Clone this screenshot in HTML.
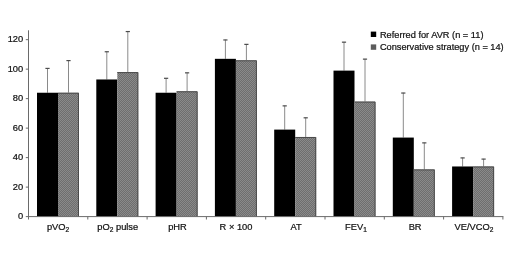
<!DOCTYPE html>
<html lang="en"><head><meta charset="utf-8"><title>Chart</title>
<style>
html,body{margin:0;padding:0;background:#fff;}
body{width:520px;height:261px;overflow:hidden;}
svg{display:block;}
text{font-family:"Liberation Sans",sans-serif;font-size:9.3px;fill:#111;stroke:#111;stroke-width:0.22px;}
.sub{font-size:6.6px;}
.ax{stroke:#6a6a6a;stroke-width:1;fill:none;}
.eb{stroke:#8a8a8a;stroke-width:1;fill:none;}
.cap{stroke:#4c4c4c;stroke-width:1.2;fill:none;}
</style></head><body>
<svg width="520" height="261" viewBox="0 0 520 261">
<defs><pattern id="ht" width="2" height="2" patternUnits="userSpaceOnUse"><rect width="2" height="2" fill="#6e6e6e"/><rect width="1" height="1" fill="#8a8a8a"/><rect x="1" y="1" width="1" height="1" fill="#8a8a8a"/></pattern></defs>
<rect width="520" height="261" fill="#fff"/>

<path class="eb" d="M47.50 92.74V68.12"/><path class="cap" d="M45.40 68.42H49.60"/>
<path class="eb" d="M68.50 92.74V60.30"/><path class="cap" d="M66.40 60.60H70.60"/>
<path class="eb" d="M106.80 79.47V51.46"/><path class="cap" d="M104.70 51.76H108.90"/>
<path class="eb" d="M127.80 72.10V31.26"/><path class="cap" d="M125.70 31.56H129.90"/>
<path class="eb" d="M166.10 92.74V78.00"/><path class="cap" d="M164.00 78.30H168.20"/>
<path class="eb" d="M187.10 91.27V72.54"/><path class="cap" d="M185.00 72.84H189.20"/>
<path class="eb" d="M225.40 58.83V39.66"/><path class="cap" d="M223.30 39.96H227.50"/>
<path class="eb" d="M246.40 60.30V44.08"/><path class="cap" d="M244.30 44.38H248.50"/>
<path class="eb" d="M284.70 129.60V105.57"/><path class="cap" d="M282.60 105.87H286.80"/>
<path class="eb" d="M305.70 136.98V117.51"/><path class="cap" d="M303.60 117.81H307.80"/>
<path class="eb" d="M344.00 70.62V41.87"/><path class="cap" d="M341.90 42.17H346.10"/>
<path class="eb" d="M365.00 101.59V58.83"/><path class="cap" d="M362.90 59.13H367.10"/>
<path class="eb" d="M403.30 137.57V92.74"/><path class="cap" d="M401.20 93.04H405.40"/>
<path class="eb" d="M424.30 169.42V142.58"/><path class="cap" d="M422.20 142.88H426.40"/>
<path class="eb" d="M462.60 166.47V157.62"/><path class="cap" d="M460.50 157.92H464.70"/>
<path class="eb" d="M483.60 166.47V158.80"/><path class="cap" d="M481.50 159.10H485.70"/>
<rect x="37.00" y="92.74" width="21.00" height="123.86" fill="#000"/>
<rect x="58.00" y="92.74" width="21.00" height="123.86" fill="url(#ht)"/>
<path d="M58.00 93.24H78.50V216.60" stroke="#4a4a4a" stroke-width="1" fill="none"/>
<rect x="96.30" y="79.47" width="21.00" height="137.13" fill="#000"/>
<rect x="117.30" y="72.10" width="21.00" height="144.50" fill="url(#ht)"/>
<path d="M117.30 72.60H137.80V216.60" stroke="#4a4a4a" stroke-width="1" fill="none"/>
<rect x="155.60" y="92.74" width="21.00" height="123.86" fill="#000"/>
<rect x="176.60" y="91.27" width="21.00" height="125.33" fill="url(#ht)"/>
<path d="M176.60 91.77H197.10V216.60" stroke="#4a4a4a" stroke-width="1" fill="none"/>
<rect x="214.90" y="58.83" width="21.00" height="157.77" fill="#000"/>
<rect x="235.90" y="60.30" width="21.00" height="156.30" fill="url(#ht)"/>
<path d="M235.90 60.80H256.40V216.60" stroke="#4a4a4a" stroke-width="1" fill="none"/>
<rect x="274.20" y="129.60" width="21.00" height="87.00" fill="#000"/>
<rect x="295.20" y="136.98" width="21.00" height="79.62" fill="url(#ht)"/>
<path d="M295.20 137.48H315.70V216.60" stroke="#4a4a4a" stroke-width="1" fill="none"/>
<rect x="333.50" y="70.62" width="21.00" height="145.98" fill="#000"/>
<rect x="354.50" y="101.59" width="21.00" height="115.01" fill="url(#ht)"/>
<path d="M354.50 102.09H375.00V216.60" stroke="#4a4a4a" stroke-width="1" fill="none"/>
<rect x="392.80" y="137.57" width="21.00" height="79.03" fill="#000"/>
<rect x="413.80" y="169.42" width="21.00" height="47.18" fill="url(#ht)"/>
<path d="M413.80 169.92H434.30V216.60" stroke="#4a4a4a" stroke-width="1" fill="none"/>
<rect x="452.10" y="166.47" width="21.00" height="50.13" fill="#000"/>
<rect x="473.10" y="166.47" width="21.00" height="50.13" fill="url(#ht)"/>
<path d="M473.10 166.97H493.60V216.60" stroke="#4a4a4a" stroke-width="1" fill="none"/>
<path class="ax" d="M28.5 30.3V219.5"/>
<path class="ax" d="M25.8 216.6H503.40"/>
<path class="ax" d="M25.8 187.11H28.5"/>
<path class="ax" d="M25.8 157.62H28.5"/>
<path class="ax" d="M25.8 128.13H28.5"/>
<path class="ax" d="M25.8 98.64H28.5"/>
<path class="ax" d="M25.8 69.15H28.5"/>
<path class="ax" d="M25.8 39.66H28.5"/>
<path class="ax" d="M87.80 216.6V219.5"/>
<path class="ax" d="M147.10 216.6V219.5"/>
<path class="ax" d="M206.40 216.6V219.5"/>
<path class="ax" d="M265.70 216.6V219.5"/>
<path class="ax" d="M325.00 216.6V219.5"/>
<path class="ax" d="M384.30 216.6V219.5"/>
<path class="ax" d="M443.60 216.6V219.5"/>
<path class="ax" d="M502.90 216.6V219.5"/>
<text x="23.2" y="219.20" text-anchor="end">0</text>
<text x="23.2" y="189.71" text-anchor="end">20</text>
<text x="23.2" y="160.22" text-anchor="end">40</text>
<text x="23.2" y="130.73" text-anchor="end">60</text>
<text x="23.2" y="101.24" text-anchor="end">80</text>
<text x="23.2" y="71.75" text-anchor="end">100</text>
<text x="23.2" y="42.26" text-anchor="end">120</text>
<text x="58.1" y="229.7" text-anchor="middle">pVO<tspan class="sub" dy="1.8">2</tspan></text>
<text x="117.75" y="229.7" text-anchor="middle">pO<tspan class="sub" dy="1.8">2</tspan><tspan dy="-1.8"> pulse</tspan></text>
<text x="177.5" y="229.7" text-anchor="middle">pHR</text>
<text x="236" y="229.7" text-anchor="middle">R × 100</text>
<text x="296.1" y="229.7" text-anchor="middle">AT</text>
<text x="356" y="229.7" text-anchor="middle">FEV<tspan class="sub" dy="1.8">1</tspan></text>
<text x="415.1" y="229.7" text-anchor="middle">BR</text>
<text x="473.9" y="229.7" text-anchor="middle">VE/VCO<tspan class="sub" dy="1.8">2</tspan></text>
<rect x="370.8" y="31.6" width="5.4" height="5.4" fill="#000"/>
<rect x="370.8" y="44.4" width="5.4" height="5.4" fill="#5c5c5c"/>
<text x="379.9" y="37.5" textLength="103.6" lengthAdjust="spacingAndGlyphs">Referred for AVR (n = 11)</text>
<text x="379.9" y="50.3" textLength="123.8" lengthAdjust="spacingAndGlyphs">Conservative strategy (n = 14)</text>
</svg></body></html>
